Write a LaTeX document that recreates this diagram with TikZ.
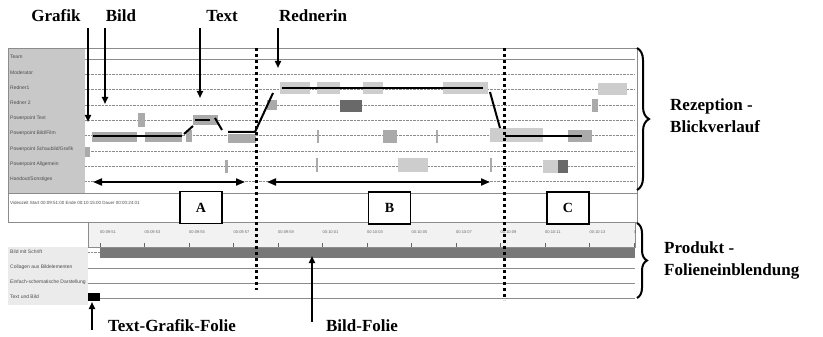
\documentclass[tikz,border=0pt]{standalone}
\usepackage{fontspec}
\setmainfont{Liberation Serif}
\newfontfamily\tabfont{Liberation Sans}
\usetikzlibrary{arrows.meta, positioning, decorations.pathreplacing, calc}
\definecolor{spaltengrau}{RGB}{200,200,200}
\definecolor{zeilengrau}{RGB}{140,140,140}
\definecolor{fixhell}{RGB}{205,205,205}
\definecolor{fixgrau}{RGB}{170,170,170}
\definecolor{fixdunkel}{RGB}{105,105,105}
\definecolor{balkengrau}{RGB}{120,120,120}

\tikzset{
  titel/.style={font=\bfseries\fontsize{17}{22}\selectfont, inner sep=0pt},
  zeile/.style={font=\tabfont\fontsize{5}{6}\selectfont, text=black!70, anchor=west, inner sep=0pt},
  zeitlabel/.style={font=\tabfont\fontsize{4}{5}\selectfont, text=black!60, anchor=west, inner sep=0pt},
  pfeil/.style={-{Triangle[length=7pt,width=6pt]}, line width=1.8pt},
  doppelpfeil/.style={{Triangle[length=9pt,width=7pt]}-{Triangle[length=9pt,width=7pt]}, line width=2pt},
  blick/.style={line width=2pt, black},
  schnitt/.style={line width=3pt, dash pattern=on 3pt off 3pt},
  abschnitt/.style={draw, line width=1.5pt, minimum width=42pt, minimum height=32pt, fill=white, font=\bfseries\fontsize{14}{16}\selectfont},
  klammer/.style={decorate, decoration={brace, amplitude=12pt}, line width=2pt},
}

\begin{document}
\begin{tikzpicture}[x=1pt, y=-1pt]
\useasboundingbox (0,0) rectangle (823,337);

% Blickverlauf: Zeilen
\fill[spaltengrau] (8,48) rectangle (85,193);
\draw[zeilengrau] (8,48) rectangle (637,193);
\foreach \name [count=\i from 0] in {Team, Moderator, Redner1, Redner 2, Powerpoint Text, Powerpoint Bild/Film, Powerpoint Schaubild/Grafik, Powerpoint Allgemein, Handout/Sonstiges}{
  \node[zeile] (row\i) at (10,{57+15.3*\i}) {\name};
  \draw[zeilengrau, densely dotted] (85,{59+15.3*\i}) -- (635,{59+15.3*\i});
}
\draw[zeilengrau] (85,59) -- (635,59);

% Fixationen
\foreach \xa/\ya/\xb/\yb/\farbe in {
  92/132/137/142/fixgrau, 145/132/182/142/fixgrau, 186/130/192/142/fixgrau, 228/134/256/143/fixgrau,
  138/113/145/127/fixgrau, 193/115/218/125/fixgrau, 85/147/90/157/fixgrau, 225/160/228/173/fixgrau,
  267/100/277/110/fixgrau, 340/100/362/112/fixdunkel,
  280/82/310/94/fixhell, 317/82/340/94/fixhell, 363/82/383/94/fixhell, 443/82/488/94/fixhell,
  317/130/319/143/fixgrau, 436/130/438/143/fixgrau, 383/130/397/143/fixgrau, 490/128/543/142/fixhell, 568/130/592/142/fixgrau,
  316/158/318/172/fixgrau, 398/158/428/172/fixhell, 490/158/492/172/fixgrau, 543/160/560/173/fixhell, 558/160/568/173/fixdunkel,
  598/83/627/95/fixhell, 592/99/598/112/fixgrau}{
  \fill[\farbe] (\xa,\ya) rectangle (\xb,\yb);
}

% Blickpfad
\draw[blick] (93,136) -- (182,136);
\draw[blick] (184,134) -- (193,126);
\draw[blick] (195,120) -- (210,120);
\draw[blick] (215,118) -- (222,130);
\draw[blick] (228,132) -- (255,132) -- (273,93);
\draw[blick] (282,88) -- (483,88);
\draw[blick] (490,92) -- (500,128);
\draw[blick] (505,136) -- (582,136);

% Videozeit
\draw[zeilengrau] (8,193) rectangle (637,222);
\node[zeile, font=\tabfont\fontsize{4.5}{5}\selectfont] (videozeit) at (10,203) {Videozeit Start 00:09:51:00 Ende 00:10:15:00 Dauer 00:00:24:01};

% Zeitleiste
\draw[zeilengrau, fill=black!5] (88,222) rectangle (635,247);
\begin{scope}
  \clip (88,222) rectangle (635,247);
  \foreach \t [count=\k from 0] in {00:09:51, 00:09:53, 00:09:55, 00:09:57, 00:09:59, 00:10:01, 00:10:03, 00:10:05, 00:10:07, 00:10:09, 00:10:11, 00:10:13, 00:10:15}{
    \node[zeitlabel] (zeit\k) at ({100+44.5*\k},232) {\t};
    \draw[black!60] ({100+44.5*\k},243) -- ({100+44.5*\k},247);
  }
\end{scope}

% Folieneinblendung
\fill[black!8] (8,247) rectangle (88,305);
\foreach \name [count=\i from 0] in {Bild mit Schrift, Collagen aus Bildelementen, Einfach-schematische Darstellung, Text und Bild}{
  \node[zeile] (folie\i) at (10,{252+15*\i}) {\name};
}
\foreach \y in {268, 283, 298}{
  \draw[zeilengrau] (88,\y) -- (635,\y);
}
\draw[zeilengrau, densely dotted] (88,252) -- (100,252);
\fill[balkengrau] (100,248) rectangle (635,258);
\fill[black] (88,293) rectangle (100,301);

% Schnitte
\coordinate (schnitt1oben) at (256,48);
\coordinate (schnitt1unten) at (256,290);
\coordinate (schnitt2oben) at (504,48);
\coordinate (schnitt2unten) at (504,300);
\draw[schnitt] (schnitt1oben) -- (schnitt1unten);
\draw[schnitt] (schnitt2oben) -- (schnitt2unten);

% Abschnitte
\coordinate (aLinks) at (93,182);
\coordinate (aRechts) at (245,182);
\coordinate (bLinks) at (267,182);
\coordinate (bRechts) at (490,182);
\draw[doppelpfeil] (aLinks) -- (aRechts);
\draw[doppelpfeil] (bLinks) -- (bRechts);
\node[abschnitt] (abschnittA) at (201,207.5) {A};
\node[abschnitt] (abschnittB) at (389.5,208) {B};
\node[abschnitt] (abschnittC) at (568,208) {C};

% Beschriftungen oben
\node[titel] (grafik) at (56,16) {Grafik};
\node[titel] (bild) at (121,16) {Bild};
\node[titel] (text) at (222,16) {Text};
\node[titel] (rednerin) at (313,16) {Rednerin};
\coordinate (grafikStart) at (88,28);
\coordinate (grafikZiel) at (88,122);
\coordinate (bildStart) at (105,28);
\coordinate (bildZiel) at (105,104);
\coordinate (textStart) at (200,28);
\coordinate (textZiel) at (200,98);
\coordinate (rednerinStart) at (278,28);
\coordinate (rednerinZiel) at (278,68);
\draw[pfeil] (grafikStart) -- (grafikZiel);
\draw[pfeil] (bildStart) -- (bildZiel);
\draw[pfeil] (textStart) -- (textZiel);
\draw[pfeil] (rednerinStart) -- (rednerinZiel);

% Beschriftungen unten
\node[titel] (textgrafikfolie) at (172,326) {Text-Grafik-Folie};
\node[titel] (bildfolie) at (362,326) {Bild-Folie};
\coordinate (tgStart) at (92,330);
\coordinate (tgZiel) at (92,302);
\coordinate (bfStart) at (312,322);
\coordinate (bfZiel) at (312,256);
\draw[pfeil] (tgStart) -- (tgZiel);
\draw[pfeil] (bfStart) -- (bfZiel);

% Klammern
\coordinate (rezOben) at (637,48);
\coordinate (rezUnten) at (637,190);
\coordinate (prodOben) at (637,223);
\coordinate (prodUnten) at (637,298);
\draw[klammer] (rezOben) -- (rezUnten);
\draw[klammer, decoration={brace, amplitude=10pt}] (prodOben) -- (prodUnten);
\node[titel, anchor=west, align=left] (rezeption) at (670,116) {Rezeption -\\Blickverlauf};
\node[titel, anchor=west, align=left] (produkt) at (664,260) {Produkt -\\Folieneinblendung};
\end{tikzpicture}
\end{document}
